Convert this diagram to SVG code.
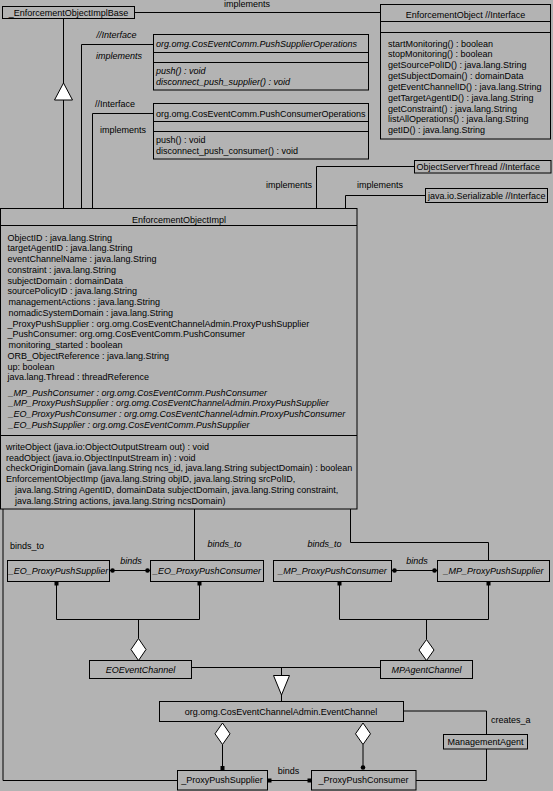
<svg xmlns="http://www.w3.org/2000/svg" width="553" height="791" viewBox="0 0 553 791">
<style>
.bg{fill:#b3b3b3}
.box{fill:#b3b3b3;stroke:#000;stroke-width:1}
.ln{fill:none;stroke:#000;stroke-width:1}
.hol{fill:#fff;stroke:#000;stroke-width:1}
.dot{fill:#000}
text{font-family:"Liberation Sans",Arial,Helvetica,sans-serif;font-size:9px;fill:#000}
.i{font-style:italic}
.c{text-anchor:middle}
</style>
<rect class="bg" x="0" y="0" width="553" height="791"/>

<g id="connectors">
  <!-- implements EnforcementObject -->
  <path class="ln" d="M134.5,12.5H380.5"/>
  <text class="c" x="247" y="7">implements</text>
  <!-- generalization to _EnforcementObjectImplBase -->
  <path class="ln" d="M63.5,18.5V83M63.5,100V208.5"/>
  <polygon class="hol" points="63.5,83 72.5,100 54.5,100"/>
  <!-- PushSupplierOperations -->
  <path class="ln" d="M81.5,208.5V44.5H153.5"/>
  <text class="i" x="96.5" y="38">//Interface</text>
  <text class="i" x="96" y="59">implements</text>
  <!-- PushConsumerOperations -->
  <path class="ln" d="M92.5,208.5V113.5H153.5"/>
  <text x="95" y="107">//Interface</text>
  <text x="100" y="132.5">implements</text>
  <!-- ObjectServerThread -->
  <path class="ln" d="M316.5,208.5V166.5H414.5"/>
  <text class="c" x="289" y="188">implements</text>
  <!-- Serializable -->
  <path class="ln" d="M345.5,208.5V195.5H425.5"/>
  <text class="c" x="380" y="188">implements</text>

  <!-- binds_to lines from EnforcementObjectImpl -->
  <path class="ln" d="M3,509V780.5H177.5"/>
  <text x="10" y="549">binds_to</text>
  <path class="ln" d="M194.5,509V560.5"/>
  <text class="i" x="207.5" y="547">binds_to</text>
  <path class="ln" d="M350.5,509V542.5H488.5V560.5"/>
  <text class="i" x="307.5" y="547">binds_to</text>

  <!-- EO binds -->
  <path class="ln" d="M109.5,570.5H150.5"/>
  <circle class="dot" cx="112.5" cy="570.5" r="2.3"/>
  <circle class="dot" cx="147.5" cy="570.5" r="2.3"/>
  <text class="i c" x="131" y="564">binds</text>
  <!-- EO aggregation -->
  <path class="ln" d="M56.5,581.5V619.5H199.5V581.5M138.5,619.5V638.5"/>
  <rect class="dot" x="54.5" y="581.5" width="4" height="4"/>
  <rect class="dot" x="197.5" y="581.5" width="4" height="4"/>
  <polygon class="hol" points="138.5,638.5 146,649.5 138.5,660.5 131,649.5"/>

  <!-- MP binds -->
  <path class="ln" d="M391.5,570.5H437.5"/>
  <circle class="dot" cx="394.5" cy="570.5" r="2.3"/>
  <circle class="dot" cx="434.5" cy="570.5" r="2.3"/>
  <text class="i c" x="417" y="564">binds</text>
  <!-- MP aggregation -->
  <path class="ln" d="M339.5,581.5V619.5H488.5V581.5M426.5,619.5V639.5"/>
  <rect class="dot" x="337.5" y="581.5" width="4" height="4"/>
  <rect class="dot" x="486.5" y="581.5" width="4" height="4"/>
  <polygon class="hol" points="426.5,639.5 434,650 426.5,660.5 419,650"/>

  <!-- generalization channels -> EventChannel -->
  <path class="ln" d="M191.5,667.5H380.5M281.5,667.5V675.5M281.5,695V701.5"/>
  <polygon class="hol" points="273.5,675.5 289.5,675.5 281.5,695"/>

  <!-- EventChannel aggregations -->
  <polygon class="hol" points="222.5,723 230,733.8 222.5,744.5 215,733.8"/>
  <path class="ln" d="M222.5,744.5V767"/>
  <rect class="dot" x="220.5" y="766" width="4" height="4.5"/>
  <polygon class="hol" points="363,723 370.5,733.8 363,744.5 355.5,733.8"/>
  <path class="ln" d="M363,744.5V767"/>
  <circle class="dot" cx="363" cy="767.5" r="2.3"/>

  <!-- bottom binds -->
  <path class="ln" d="M267.5,780.5H311.5"/>
  <rect class="dot" x="267.5" y="778.5" width="4" height="4"/>
  <rect class="dot" x="307.5" y="778.5" width="4" height="4"/>
  <text class="c" x="288.5" y="774">binds</text>

  <!-- creates_a -->
  <path class="ln" d="M403.5,711H486.5V734.5M486.5,749V780.5H416"/>
  <text x="491" y="723">creates_a</text>
</g>

<g id="EnforcementObjectImplBase">
  <rect class="box" x="2.5" y="6.5" width="132" height="12"/>
  <text class="c" x="68.5" y="16">_EnforcementObjectImplBase</text>
</g>

<g id="EnforcementObject">
  <rect class="box" x="380.5" y="4.5" width="170" height="134.5"/>
  <path class="ln" d="M380.5,21.5H550.5M380.5,32.5H550.5"/>
  <text class="c" x="465.5" y="18">EnforcementObject //Interface</text>
  <text x="388" y="46.5">startMonitoring() : boolean</text>
  <text x="388" y="57.3">stopMonitoring() : boolean</text>
  <text x="388" y="68.2">getSourcePolID() : java.lang.String</text>
  <text x="388" y="79">getSubjectDomain() : domainData</text>
  <text x="388" y="89.9">getEventChannelID() : java.lang.String</text>
  <text x="388" y="100.7">getTargetAgentID() : java.lang.String</text>
  <text x="388" y="111.6">getConstraint() : java.lang.String</text>
  <text x="388" y="122.4">listAllOperations() : java.lang.String</text>
  <text x="388" y="133.3">getID() : java.lang.String</text>
</g>

<g id="PushSupplierOperations">
  <rect class="box" x="153.5" y="34.5" width="215" height="55.5"/>
  <path class="ln" d="M153.5,52.5H368.5M153.5,62.5H368.5"/>
  <text class="i" x="156" y="47">org.omg.CosEventComm.PushSupplierOperations</text>
  <text class="i" x="156" y="74">push() : void</text>
  <text class="i" x="156" y="84.5">disconnect_push_supplier() : void</text>
</g>

<g id="PushConsumerOperations">
  <rect class="box" x="153.5" y="103.5" width="215" height="55.5"/>
  <path class="ln" d="M153.5,121.5H368.5M153.5,131.5H368.5"/>
  <text x="156" y="116.5">org.omg.CosEventComm.PushConsumerOperations</text>
  <text x="156" y="142.5">push() : void</text>
  <text x="156" y="153.5">disconnect_push_consumer() : void</text>
</g>

<g id="ObjectServerThread">
  <rect class="box" x="414.5" y="160.5" width="136.5" height="12.5"/>
  <text x="416.5" y="170">ObjectServerThread  //Interface</text>
</g>

<g id="Serializable">
  <rect class="box" x="425.5" y="188.5" width="122" height="14"/>
  <text x="428" y="198.5">java.io.Serializable //Interface</text>
</g>

<g id="EnforcementObjectImpl">
  <rect class="box" x="0.5" y="208.5" width="356.5" height="300.5"/>
  <path class="ln" d="M0.5,225.5H357M0.5,435.5H357"/>
  <text class="c" x="179" y="222.5">EnforcementObjectImpl</text>
  <text x="7.5" y="240.5">ObjectID : java.lang.String</text>
  <text x="7.5" y="251.3">targetAgentID : java.lang.String</text>
  <text x="7.5" y="262">eventChannelName : java.lang.String</text>
  <text x="7.5" y="272.8">constraint : java.lang.String</text>
  <text x="7.5" y="283.5">subjectDomain : domainData</text>
  <text x="7.5" y="294.3">sourcePolicyID : java.lang.String</text>
  <text x="8.5" y="305">managementActions : java.lang.String</text>
  <text x="8.5" y="315.8">nomadicSystemDomain : java.lang.String</text>
  <text x="7.5" y="326.5">_ProxyPushSupplier : org.omg.CosEventChannelAdmin.ProxyPushSupplier</text>
  <text x="7.5" y="337.3">_PushConsumer: org.omg.CosEventComm.PushConsumer</text>
  <text x="8.5" y="348">monitoring_started : boolean</text>
  <text x="7.5" y="358.8">ORB_ObjectReference : java.lang.String</text>
  <text x="7.5" y="369.5">up: boolean</text>
  <text x="7.5" y="380.3">java.lang.Thread : threadReference</text>
  <text class="i" x="8.5" y="395.5">_MP_PushConsumer : org.omg.CosEventComm.PushConsumer</text>
  <text class="i" x="8.5" y="406.4">_MP_ProxyPushSupplier : org.omg.CosEventChannelAdmin.ProxyPushSupplier</text>
  <text class="i" x="8.5" y="417.3">_EO_ProxyPushConsumer : org.omg.CosEventChannelAdmin.ProxyPushConsumer</text>
  <text class="i" x="8.5" y="428.2">_EO_PushSupplier : org.omg.CosEventComm.PushSupplier</text>
  <text x="6" y="449.7">writeObject (java.io:ObjectOutputStream out) : void</text>
  <text x="6" y="460.5">readObject (java.io.ObjectInputStream in) : void</text>
  <text x="6" y="471.3">checkOriginDomain (java.lang.String ncs_id, java.lang.String subjectDomain) : boolean</text>
  <text x="6" y="482.1">EnforcementObjectImp (java.lang.String objID, java.lang.String srcPolID,</text>
  <text x="15" y="492.9">java.lang.String AgentID, domainData subjectDomain, java.lang.String constraint,</text>
  <text x="15" y="503.7">java.lang.String actions, java.lang.String ncsDomain)</text>
</g>

<g id="EO_ProxyPushSupplier">
  <rect class="box" x="7.5" y="560.5" width="102" height="21"/>
  <text class="i c" x="58.5" y="574.2">_EO_ProxyPushSupplier</text>
</g>
<g id="EO_ProxyPushConsumer">
  <rect class="box" x="150.5" y="560.5" width="113" height="21"/>
  <text class="i c" x="207" y="574.2">_EO_ProxyPushConsumer</text>
</g>
<g id="MP_ProxyPushConsumer">
  <rect class="box" x="273.5" y="560.5" width="118" height="21"/>
  <text class="i c" x="332.5" y="574.2">_MP_ProxyPushConsumer</text>
</g>
<g id="MP_ProxyPushSupplier">
  <rect class="box" x="437.5" y="560.5" width="112" height="21"/>
  <text class="i c" x="493.5" y="574.2">_MP_ProxyPushSupplier</text>
</g>
<g id="EOEventChannel">
  <rect class="box" x="89.5" y="660.5" width="102" height="18"/>
  <text class="i c" x="140.5" y="672.5">EOEventChannel</text>
</g>
<g id="MPAgentChannel">
  <rect class="box" x="380.5" y="660.5" width="92" height="18"/>
  <text class="i c" x="426.5" y="672.5">MPAgentChannel</text>
</g>
<g id="EventChannel">
  <rect class="box" x="159.5" y="701.5" width="244" height="20"/>
  <text class="c" x="281" y="714.8">org.omg.CosEventChannelAdmin.EventChannel</text>
</g>
<g id="ManagementAgent">
  <rect class="box" x="443.5" y="734.5" width="84" height="14.5"/>
  <text class="c" x="485.5" y="745">ManagementAgent</text>
</g>
<g id="ProxyPushSupplier">
  <rect class="box" x="177.5" y="770.5" width="90" height="19.5"/>
  <text class="c" x="222" y="783.3">_ProxyPushSupplier</text>
</g>
<g id="ProxyPushConsumer">
  <rect class="box" x="311.5" y="770.5" width="104.5" height="19.5"/>
  <text class="c" x="363.5" y="783.3">_ProxyPushConsumer</text>
</g>
</svg>
